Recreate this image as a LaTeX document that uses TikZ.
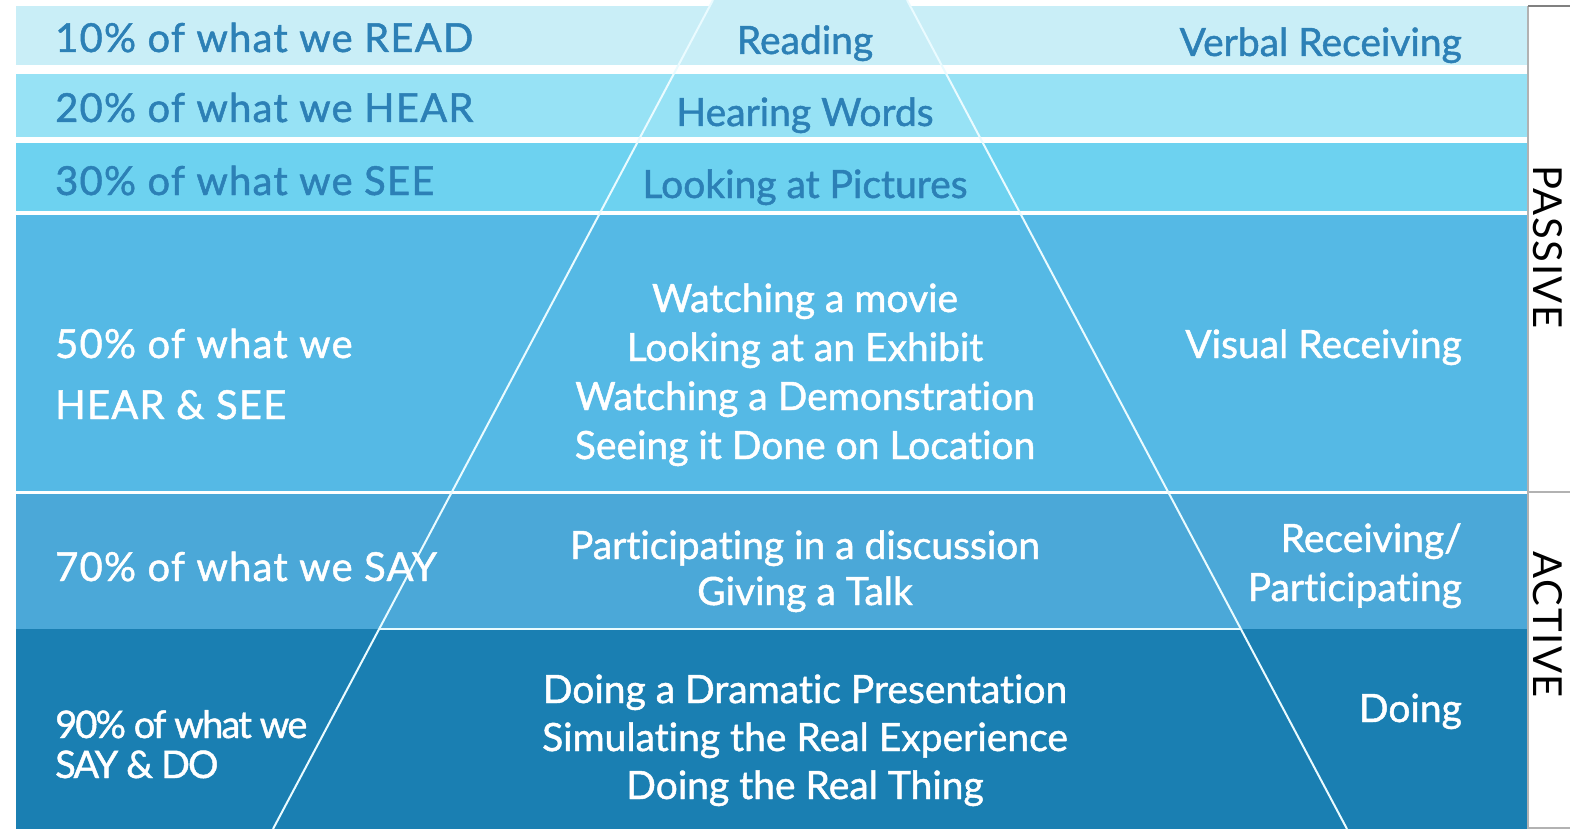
\documentclass[tikz,border=0pt]{standalone}
\usepackage{fontspec}
\setmainfont{Lato}[Ligatures=NoCommon]
\usetikzlibrary{positioning}

\definecolor{rowa}{HTML}{C9EEF7}
\definecolor{rowb}{HTML}{97E2F5}
\definecolor{rowc}{HTML}{6DD2F0}
\definecolor{rowd}{HTML}{55B9E5}
\definecolor{rowe}{HTML}{4BA8D8}
\definecolor{rowf}{HTML}{1A7FB2}
\definecolor{txtblue}{HTML}{2C80B6}
\definecolor{edgeline}{HTML}{EAFBFF}

\begin{document}
\begin{tikzpicture}[x=1pt, y=-1pt,
	lbl/.style={font=\fontsize{39}{46}\selectfont\addfontfeature{FakeBold=1.2}, inner sep=0pt},
	dark/.style={lbl, text=txtblue},
	light/.style={lbl, text=white},
	wide/.style={font=\fontsize{40}{46}\selectfont\addfontfeature{FakeBold=1.2,LetterSpace=3}},
	squeeze/.style={light, font=\fontsize{38}{44}\selectfont\addfontfeature{FakeBold=1.2,LetterSpace=-5}},
	side/.style={font=\fontsize{40}{46}\selectfont\addfontfeature{LetterSpace=4}, inner sep=0pt, rotate=-90}]

	\useasboundingbox (0,0) rectangle (1570,829);
% draw the bands
	\fill[rowa] (16,6) rectangle (1528,65);
	\fill[rowa] (713,0) -- (907,0) -- (910,6) -- (710,6) -- cycle;
	\fill[rowb] (16,74) rectangle (1528,137);
	\fill[rowc] (16,143) rectangle (1528,211);
	\fill[rowd] (16,215) rectangle (1528,491);
	\fill[rowe] (16,494) rectangle (1528,629);
	\fill[rowf] (16,629) rectangle (1528,829);
% draw the pyramid
	\draw[edgeline, line width=2.5pt] (380,629) -- (1240,629);
	\draw[edgeline, line width=2pt] (713,0) -- (273,829);
	\draw[edgeline, line width=2pt] (907,0) -- (1347,829);
% draw the bracket
	\draw[gray!60, line width=1.5pt] (1528,6) -- (1528,829);
	\draw[gray, line width=2pt] (1528,6) -- (1570,6);
	\draw[gray!60, line width=1.5pt] (1528,492) -- (1570,492);
	\draw[gray!60, line width=1.5pt] (1528,828) -- (1570,828);
	\node[side] (passive) at (1548,247) {PASSIVE};
	\node[side] (active) at (1548,625) {ACTIVE};

% left column
	\node[dark, wide, anchor=base west] (read) at (55,52) {10\% of what we READ};
	\node[dark, wide, anchor=base west] (hear) at (55,122) {20\% of what we HEAR};
	\node[dark, wide, anchor=base west] (see) at (55,195) {30\% of what we SEE};
	\node[light, wide, anchor=base west] (hearsee1) at (55,358) {50\% of what we};
	\node[light, wide, anchor=base west] (hearsee2) at (55,419) {HEAR \& SEE};
	\node[light, wide, anchor=base west] (say) at (55,581) {70\% of what we SAY};
	\node[squeeze, anchor=base west] (saydo1) at (55,738) {90\% of what we};
	\node[squeeze, anchor=base west] (saydo2) at (55,778) {SAY \& DO};

% middle column
	\node[dark, anchor=base] (reading) at (805,54) {Reading};
	\node[dark, anchor=base] (words) at (805,126) {Hearing Words};
	\node[dark, anchor=base] (pictures) at (805,198) {Looking at Pictures};
	\foreach \t [count=\i] in {Watching a movie, Looking at an Exhibit,
		Watching a Demonstration, Seeing it Done on Location}
		\node[light, anchor=base] (watch\i) at (805,263+49*\i) {\t};
	\node[light, anchor=base] (talk1) at (805,559) {Participating in a discussion};
	\node[light, anchor=base] (talk2) at (805,605) {Giving a Talk};
	\foreach \t [count=\i] in {Doing a Dramatic Presentation,
		Simulating the Real Experience, Doing the Real Thing}
		\node[light, anchor=base] (doing\i) at (805,655+48*\i) {\t};

% right column
	\node[dark, anchor=base east] (verbal) at (1462,56) {Verbal Receiving};
	\node[light, anchor=base east] (visual) at (1462,358) {Visual Receiving};
	\node[light, anchor=base east] (recv1) at (1462,552) {Receiving/};
	\node[light, anchor=base east] (recv2) at (1462,601) {Participating};
	\node[light, anchor=base east] (doit) at (1462,722) {Doing};
\end{tikzpicture}
\end{document}
